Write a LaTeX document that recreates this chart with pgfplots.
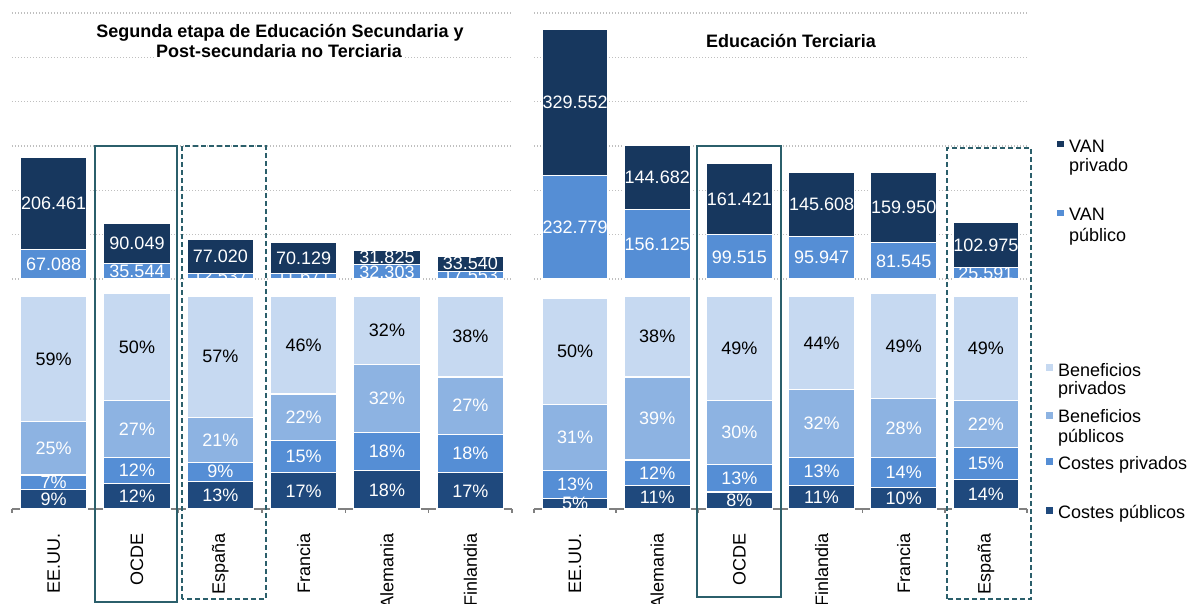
\documentclass[border=0pt]{standalone}
\usepackage{fontspec}
\setmainfont{Liberation Sans}
\usepackage{pgfplots}
\pgfplotsset{compat=1.18}
\usepackage{pgfplotstable}

\definecolor{vanpriv}{HTML}{17375E}
\definecolor{vanpub}{HTML}{558ED5}
\definecolor{cpubc}{HTML}{1F497D}
\definecolor{cprivc}{HTML}{558ED5}
\definecolor{bpubc}{HTML}{8DB3E2}
\definecolor{bprivc}{HTML}{C6D9F1}
\definecolor{boxc}{HTML}{2B5F6B}
\definecolor{gridc}{HTML}{BFBFBF}

% VAN in thousands of euros (label = the value as written)
% Left: EE.UU., OCDE, Espana, Francia, Alemania, Finlandia
\pgfplotstableread{
x pub priv
0 67.088 206.461
1 35.544 90.049
2 12.537 77.020
3 11.671 70.129
4 32.303 31.825
5 17.553 33.540
}\tabLU
% Right: EE.UU., Alemania, OCDE, Finlandia, Francia, Espana
\pgfplotstableread{
x pub priv
0 232.779 329.552
1 156.125 144.682
2 99.515 161.421
3 95.947 145.608
4 81.545 159.950
5 25.591 102.975
}\tabRU
\pgfplotstableread{
x cpub cpriv bpub bpriv
0 9 7 25 59
1 12 12 27 50
2 13 9 21 57
3 17 15 22 46
4 18 18 32 32
5 17 18 27 38
}\tabLL
\pgfplotstableread{
x cpub cpriv bpub bpriv
0 5 13 31 50
1 11 12 39 38
2 8 13 30 49
3 11 13 32 44
4 10 14 28 49
5 14 15 22 49
}\tabRL

\pgfplotsset{
  lbl/.style={
    point meta=explicit symbolic,
    nodes near coords={\pgfplotspointmeta\%},
    every node near coord/.append style={anchor=center, inner sep=0pt, text=#1}
  },
  vlbl/.style={
    point meta=explicit symbolic,
    nodes near coords={\pgfplotspointmeta},
    every node near coord/.append style={anchor=center, inner sep=0pt, text=white}
  },
  upperax/.style={
    scale only axis, height=266pt, ybar stacked, bar width=0.8,
    xmin=-0.5, xmax=5.5, ymin=0, ymax=600, enlargelimits=false,
    axis line style={draw=none}, xtick=\empty,
    ytick={0,100,...,600}, yticklabels={}, major tick length=0pt,
    scaled y ticks=false,
    grid style={gridc, line width=1.3pt, dash pattern=on 1.3pt off 1.7pt},
    clip=false,
  },
  lowerax/.style={
    scale only axis, height=213pt, ybar stacked, bar width=0.8,
    xmin=-0.5, xmax=5.5, ymin=0, ymax=100, enlargelimits=false,
    axis x line=bottom, axis y line=none,
    x axis line style={-, draw=gray, line width=2pt},
    xtick={0,...,5}, major tick length=0pt,
    minor xtick={-0.5,0.5,...,5.5}, minor tick length=4pt, tick align=outside,
    minor tick style={gray, line width=1.5pt},
    xticklabel style={rotate=90, anchor=east, inner sep=0pt},
    xticklabel shift=24pt,
    clip=false,
  },
}

\begin{document}
\fontsize{18}{21.6}\selectfont
\begin{tikzpicture}
\useasboundingbox (0pt,0pt) rectangle (1192pt,604pt);
\clip (0pt,0pt) rectangle (1192pt,604pt);

% ---------- Left upper (VAN) ----------
\begin{axis}[upperax, ymajorgrids, at={(12pt,325pt)}, anchor=south west, width=500pt]
\addplot[fill=vanpub, draw=white, line width=1.2pt, vlbl] table[x=x,y=pub,meta=pub]{\tabLU};
\addplot[fill=vanpriv, draw=white, line width=1.2pt] table[x=x,y=priv]{\tabLU};
\end{axis}
% private VAN drawn again on top of the public labels, with its own labels
\begin{axis}[upperax, at={(12pt,325pt)}, anchor=south west, width=500pt]
\addplot[draw=none, fill=none] table[x=x,y=pub]{\tabLU};
\addplot[fill=vanpriv, draw=white, line width=1.2pt, vlbl] table[x=x,y=priv,meta=priv]{\tabLU};
\end{axis}

% ---------- Right upper (VAN) ----------
\begin{axis}[upperax, ymajorgrids, at={(534pt,325pt)}, anchor=south west, width=493pt]
\addplot[fill=vanpub, draw=white, line width=1.2pt, vlbl] table[x=x,y=pub,meta=pub]{\tabRU};
\addplot[fill=vanpriv, draw=white, line width=1.2pt] table[x=x,y=priv]{\tabRU};
\end{axis}
\begin{axis}[upperax, at={(534pt,325pt)}, anchor=south west, width=493pt]
\addplot[draw=none, fill=none] table[x=x,y=pub]{\tabRU};
\addplot[fill=vanpriv, draw=white, line width=1.2pt, vlbl] table[x=x,y=priv,meta=priv]{\tabRU};
\end{axis}

% ---------- Left lower (%) ----------
\begin{axis}[lowerax, at={(12pt,95pt)}, anchor=south west, width=500pt,
  xticklabels={EE.UU.,OCDE,España,Francia,Alemania,Finlandia}]
\addplot[fill=cpubc, draw=white, line width=1.2pt, lbl=white] table[x=x,y=cpub,meta=cpub]{\tabLL};
\addplot[fill=cprivc, draw=white, line width=1.2pt, lbl=white] table[x=x,y=cpriv,meta=cpriv]{\tabLL};
\addplot[fill=bpubc, draw=white, line width=1.2pt, lbl=white] table[x=x,y=bpub,meta=bpub]{\tabLL};
\addplot[fill=bprivc, draw=white, line width=1.2pt, lbl=black] table[x=x,y=bpriv,meta=bpriv]{\tabLL};
\end{axis}

% ---------- Right lower (%) ----------
\begin{axis}[lowerax, at={(534pt,95pt)}, anchor=south west, width=493pt,
  xticklabels={EE.UU.,Alemania,OCDE,Finlandia,Francia,España}]
\addplot[fill=cpubc, draw=white, line width=1.2pt, lbl=white] table[x=x,y=cpub,meta=cpub]{\tabRL};
\addplot[fill=cprivc, draw=white, line width=1.2pt, lbl=white] table[x=x,y=cpriv,meta=cpriv]{\tabRL};
\addplot[fill=bpubc, draw=white, line width=1.2pt, lbl=white] table[x=x,y=bpub,meta=bpub]{\tabRL};
\addplot[fill=bprivc, draw=white, line width=1.2pt, lbl=black] table[x=x,y=bpriv,meta=bpriv]{\tabRL};
\end{axis}

% ---------- highlight boxes ----------
\draw[boxc, line width=1.8pt] (95pt,2pt) rectangle (177pt,458pt);
\draw[boxc, line width=1.8pt, dash pattern=on 5pt off 3pt] (182pt,5pt) rectangle (266pt,458pt);
\draw[boxc, line width=1.8pt] (697pt,7pt) rectangle (781pt,458pt);
\draw[boxc, line width=1.8pt, dash pattern=on 5pt off 3pt] (947pt,5pt) rectangle (1031pt,456pt);

% ---------- titles ----------
\node[fill=white, inner sep=1.5pt, anchor=base, font=\bfseries] at (280pt,566pt) {Segunda etapa de Educación Secundaria y};
\node[fill=white, inner sep=1.5pt, anchor=base, font=\bfseries] at (279pt,546pt) {Post-secundaria no Terciaria};
\node[anchor=base, font=\bfseries] at (791pt,556pt) {Educación Terciaria};

% ---------- legend ----------
\fill[vanpriv] (1056.5pt,457pt) rectangle (1063.5pt,463pt);
\node[anchor=base west, inner sep=0pt] at (1069pt,451pt) {VAN};
\node[anchor=base west, inner sep=0pt] at (1069pt,432pt) {privado};
\fill[vanpub] (1056.5pt,387.5pt) rectangle (1063.5pt,393.5pt);
\node[anchor=base west, inner sep=0pt] at (1069pt,383pt) {VAN};
\node[anchor=base west, inner sep=0pt] at (1069pt,362pt) {público};
\fill[bprivc] (1045.5pt,232.5pt) rectangle (1052.5pt,239.5pt);
\node[anchor=base west, inner sep=0pt] at (1058pt,227pt) {Beneficios};
\node[anchor=base west, inner sep=0pt] at (1058pt,209pt) {privados};
\fill[bpubc] (1045.5pt,185pt) rectangle (1052.5pt,192pt);
\node[anchor=base west, inner sep=0pt] at (1058pt,181pt) {Beneficios};
\node[anchor=base west, inner sep=0pt] at (1058pt,161pt) {públicos};
\fill[cprivc] (1045.5pt,139pt) rectangle (1052.5pt,146pt);
\node[anchor=base west, inner sep=0pt] at (1058pt,134pt) {Costes privados};
\fill[cpubc] (1045.5pt,89.5pt) rectangle (1052.5pt,96.5pt);
\node[anchor=base west, inner sep=0pt] at (1058pt,85pt) {Costes públicos};
\end{tikzpicture}
\end{document}
